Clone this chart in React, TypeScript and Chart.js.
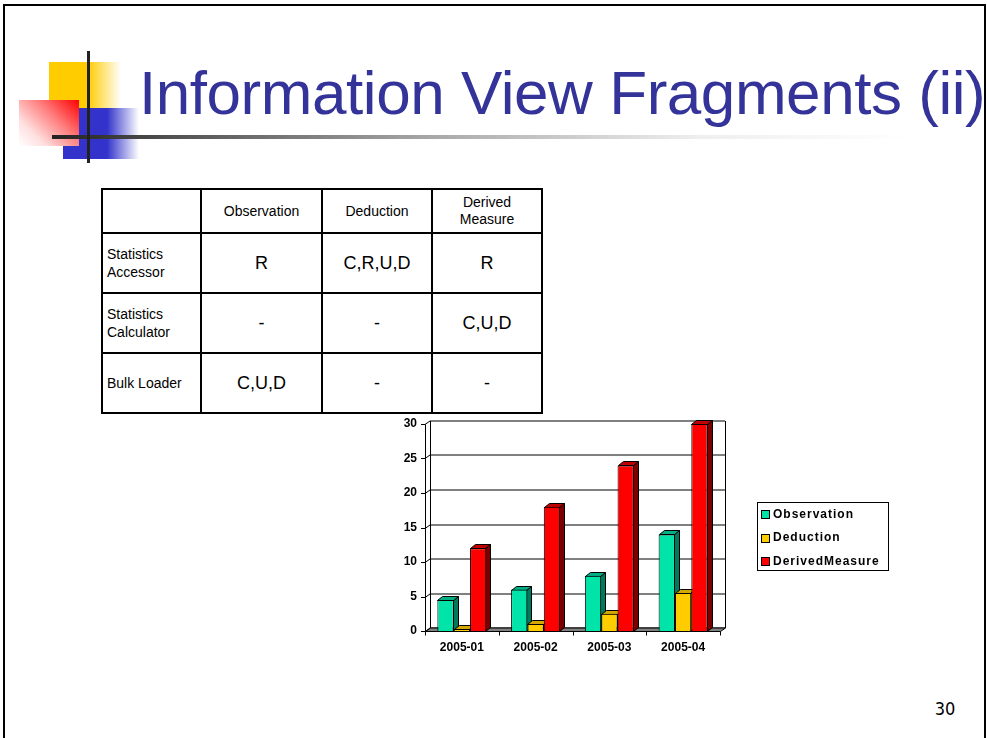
import React, { useEffect, useRef } from 'react';
import { Chart, registerables } from 'chart.js';
Chart.register(...registerables);

// ---- chart data ----
const categories = ['2005-01', '2005-02', '2005-03', '2005-04'];
const seriesNames = ['Observation', 'Deduction', 'DerivedMeasure'];
const observation = [4.5, 6, 8, 14];
const deduction = [0.3, 1, 2.5, 5.5];
const derivedMeasure = [12, 18, 24, 30];
const yMin = 0;
const yMax = 30;
const yStep = 5;

// ---- table data ----
const tableHeaders = ['Observation', 'Deduction', 'Derived Measure'];
const tableRowLabels = ['Statistics Accessor', 'Statistics Calculator', 'Bulk Loader'];
const tableCells = [
  ['R', 'C,R,U,D', 'R'],
  ['-', '-', 'C,U,D'],
  ['C,U,D', '-', '-'],
];

const titleText = 'Information View Fragments (ii)';
const pageNumber = '30';

// ---- styles ----
const FONT = '"Liberation Sans", Arial, sans-serif';
const frontColors = ['#00E4AA', '#FFCC00', '#FF0000'];
const sideColors = ['#007A5C', '#9C7C00', '#7A0000'];
const topColors = ['#00B084', '#D4A800', '#C00000'];

const BDX = 5, BDY = 4; // bar depth
const WDX = 5, WDY = 3.5; // wall depth

const threeD = {
  id: 'threeD',
  beforeDatasetsDraw(chart: any) {
    const { ctx, chartArea: a, scales } = chart;
    const ys = scales.y;
    ctx.save();
    ctx.lineWidth = 1;
    ctx.strokeStyle = '#000';
    // back wall grid lines + tick marks
    ys.ticks.forEach((t: any) => {
      const py = Math.round(ys.getPixelForValue(t.value)) + 0.5;
      ctx.beginPath();
      ctx.moveTo(a.left - 4, py);
      ctx.lineTo(a.left, py);
      ctx.lineTo(a.left + WDX, py - WDY);
      ctx.lineTo(a.right + WDX, py - WDY);
      ctx.stroke();
    });
    // wall edges
    const L = Math.round(a.left) + 0.5;
    const R = Math.round(a.right) + 0.5;
    const T = Math.round(a.top) + 0.5;
    const B = Math.round(a.bottom) + 0.5;
    ctx.beginPath();
    ctx.moveTo(L + WDX, T - WDY);
    ctx.lineTo(L + WDX, B - WDY);
    ctx.moveTo(R + WDX, T - WDY);
    ctx.lineTo(R + WDX, B - WDY);
    ctx.moveTo(L, T);
    ctx.lineTo(L, B);
    ctx.stroke();
    // floor
    ctx.beginPath();
    ctx.moveTo(L, B);
    ctx.lineTo(R, B);
    ctx.lineTo(R + WDX, B - WDY);
    ctx.lineTo(L + WDX, B - WDY);
    ctx.closePath();
    ctx.fillStyle = '#808080';
    ctx.fill();
    ctx.stroke();
    // x tick marks at category boundaries
    const n = chart.data.labels.length;
    ctx.beginPath();
    for (let i = 0; i <= n; i++) {
      const px = Math.round(a.left + (i * (a.right - a.left)) / n) + 0.5;
      ctx.moveTo(px, B);
      ctx.lineTo(px, B + 4);
    }
    ctx.stroke();
    // bar tops and sides
    for (let i = 0; i < n; i++) {
      chart.data.datasets.forEach((_ds: any, d: number) => {
        const el = chart.getDatasetMeta(d).data[i];
        if (!el) return;
        const { x, y, width, base } = el.getProps(['x', 'y', 'width', 'base'], true);
        const l = Math.round(x - width / 2) + 0.5;
        const r = Math.round(x + width / 2) - 0.5;
        const yt = Math.round(y) + 0.5;
        const yb = Math.round(base) + 0.5;
        ctx.beginPath();
        ctx.moveTo(r, yt);
        ctx.lineTo(r + BDX, yt - BDY);
        ctx.lineTo(r + BDX, yb - BDY);
        ctx.lineTo(r, yb);
        ctx.closePath();
        ctx.fillStyle = sideColors[d];
        ctx.fill();
        ctx.stroke();
        ctx.beginPath();
        ctx.moveTo(l, yt);
        ctx.lineTo(l + BDX, yt - BDY);
        ctx.lineTo(r + BDX, yt - BDY);
        ctx.lineTo(r, yt);
        ctx.closePath();
        ctx.fillStyle = topColors[d];
        ctx.fill();
        ctx.stroke();
      });
    }
    ctx.restore();
  },
  afterDraw(chart: any) {
    const { ctx } = chart;
    ctx.save();
    // legend box
    const bx = 377.5, by = 92.5, bw = 131, bh = 68;
    ctx.fillStyle = '#fff';
    ctx.fillRect(bx, by, bw, bh);
    ctx.strokeStyle = '#000';
    ctx.lineWidth = 1;
    ctx.strokeRect(bx, by, bw, bh);
    ctx.font = `bold 12px ${FONT}`;
    ctx.textBaseline = 'middle';
    ctx.textAlign = 'left';
    try { (ctx as any).letterSpacing = '1px'; } catch (e) {}
    chart.data.datasets.forEach((ds: any, d: number) => {
      const cy = 104 + d * 23.5;
      ctx.fillStyle = ds.backgroundColor;
      ctx.fillRect(381.5, Math.round(cy - 4) + 0.5, 8, 8);
      ctx.strokeRect(381.5, Math.round(cy - 4) + 0.5, 8, 8);
      ctx.fillStyle = '#000';
      ctx.fillText(ds.label, 393, cy + 0.5);
    });
    ctx.restore();
  },
};

export default function App() {
  const ref = useRef<HTMLCanvasElement>(null);
  useEffect(() => {
    const canvas = ref.current!;
    const series = [observation, deduction, derivedMeasure];
    const chart = new Chart(canvas, {
      type: 'bar',
      data: {
        labels: categories,
        datasets: series.map((data, d) => ({
          label: seriesNames[d],
          data,
          backgroundColor: frontColors[d],
          borderColor: '#000',
          borderWidth: 1,
          categoryPercentage: 0.665,
          barPercentage: 1,
        })),
      },
      options: {
        responsive: false,
        animation: false,
        devicePixelRatio: 1,
        layout: { padding: { left: 0, top: 14, right: 180, bottom: 0 } },
        plugins: { legend: { display: false }, tooltip: { enabled: false } },
        scales: {
          y: {
            min: yMin,
            max: yMax,
            ticks: { stepSize: yStep, color: '#000', font: { family: FONT, size: 12, weight: 'bold' }, padding: 0 },
            grid: { display: false },
            border: { display: false },
            afterFit: (s: any) => { s.width = 45; },
          },
          x: {
            ticks: { color: '#000', font: { family: FONT, size: 12, weight: 'bold' }, padding: 1, maxRotation: 0 },
            grid: { display: false },
            border: { display: false },
            afterFit: (s: any) => { s.height = 39; },
          },
        },
      } as any,
      plugins: [threeD],
    });
    return () => chart.destroy();
  }, []);

  const colX = [102, 201, 322, 432, 542];
  const rowY = [189, 233, 293, 353, 413];
  const cells: React.ReactNode[] = [];
  // header
  tableHeaders.forEach((h, c) => {
    cells.push(
      <div key={'h' + c} style={{ position: 'absolute', left: colX[c + 1], top: rowY[0], width: colX[c + 2] - colX[c + 1], height: rowY[1] - rowY[0], display: 'flex', alignItems: 'center', justifyContent: 'center', textAlign: 'center', fontSize: 14, lineHeight: '17px', padding: '0 20px', boxSizing: 'border-box' }}>{h}</div>
    );
  });
  tableRowLabels.forEach((lab, r) => {
    const words = lab.split(' ');
    const isTwoLine = lab.startsWith('Statistics');
    cells.push(
      <div key={'r' + r} style={{ position: 'absolute', left: colX[0] + 5, top: rowY[r + 1], width: colX[1] - colX[0] - 8, height: rowY[r + 2] - rowY[r + 1], display: 'flex', alignItems: 'center', fontSize: 14, lineHeight: '18px', whiteSpace: 'nowrap' }}>
        {isTwoLine ? (<span>{words[0]}<br />{words.slice(1).join(' ')}</span>) : lab}
      </div>
    );
    tableCells[r].forEach((v, c) => {
      cells.push(
        <div key={'c' + r + c} style={{ position: 'absolute', left: colX[c + 1], top: rowY[r + 1], width: colX[c + 2] - colX[c + 1], height: rowY[r + 2] - rowY[r + 1], display: 'flex', alignItems: 'center', justifyContent: 'center', fontSize: 18 }}>{v}</div>
      );
    });
  });
  const lines: React.ReactNode[] = [];
  colX.forEach((x, i) => lines.push(<div key={'vx' + i} style={{ position: 'absolute', left: x - 1, top: rowY[0] - 1, width: 2, height: rowY[4] - rowY[0] + 2, background: '#000' }} />));
  rowY.forEach((y, i) => lines.push(<div key={'hy' + i} style={{ position: 'absolute', left: colX[0] - 1, top: y - 1, width: colX[4] - colX[0] + 2, height: 2, background: '#000' }} />));

  return (
    <div style={{ position: 'absolute', left: 0, top: 0, width: 987, height: 738, overflow: 'hidden', background: '#fff', fontFamily: FONT, color: '#000' }}>
      {/* slide frame */}
      <div style={{ position: 'absolute', left: 3, top: 4, width: 979, height: 800, border: '2px solid #000' }} />
      {/* decoration */}
      <div style={{ position: 'absolute', left: 49, top: 62, width: 72, height: 46, background: 'linear-gradient(to right, #FFCC00 0%, #FFCC00 54%, #ffffff 100%)' }} />
      <div style={{ position: 'absolute', left: 63, top: 108, width: 76, height: 51, background: 'linear-gradient(to right, #3333CC 0%, #3333CC 58%, #ffffff 100%)' }} />
      <div style={{ position: 'absolute', left: 19, top: 100, width: 60, height: 46, background: 'linear-gradient(225deg, #FF0000 0%, #FF8080 40%, #FFE0E0 75%, #ffffff 100%)' }} />
      <div style={{ position: 'absolute', left: 52, top: 135, width: 860, height: 4, background: 'linear-gradient(to right, #222 0%, #555 15%, #aaa 45%, #eee 75%, #fff 100%)' }} />
      <div style={{ position: 'absolute', left: 87, top: 51, width: 3, height: 112, background: '#222' }} />
      {/* title */}
      <div style={{ position: 'absolute', left: 139, top: 62, fontSize: 62, lineHeight: '62px', letterSpacing: '-0.45px', whiteSpace: 'nowrap', color: '#333399', fontFamily: FONT }}>{titleText}</div>
      {/* table */}
      {cells}
      {lines}
      {/* chart */}
      <canvas ref={ref} width={520} height={260} style={{ position: 'absolute', left: 380, top: 410, width: 520, height: 260 }} />
      {/* page number */}
      <div style={{ position: 'absolute', left: 925, top: 698, width: 40, textAlign: 'center', fontSize: 18, fontFamily: '"DejaVu Sans Condensed", "DejaVu Sans", sans-serif' }}>{pageNumber}</div>
    </div>
  );
}
